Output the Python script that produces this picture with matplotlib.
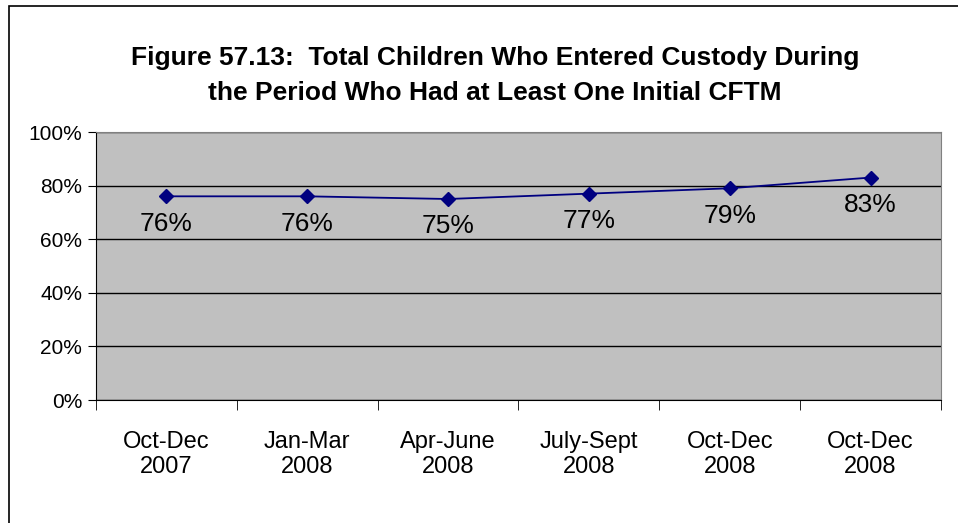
import matplotlib.pyplot as plt
from matplotlib.patches import Rectangle

plt.rcParams['font.family'] = ['Liberation Sans', 'DejaVu Sans']

# quarterly share of children with at least one initial CFTM
periods = ["Oct-Dec\n2007", "Jan-Mar\n2008", "Apr-June\n2008",
           "July-Sept\n2008", "Oct-Dec\n2008", "Oct-Dec\n2008"]
pct = [76, 76, 75, 77, 79, 83]
pct_labels = ["76%", "76%", "75%", "77%", "79%", "83%"]

fig = plt.figure(figsize=(9.58, 5.23), dpi=100)
ax = fig.add_axes([96/958, 1 - 400/523, 845/958, 268/523])

# outer chart frame
fig.patches.append(Rectangle((9/958, -0.05), 960/958, 1 - 6/523 + 0.05,
                             transform=fig.transFigure, fill=False,
                             edgecolor="black", linewidth=1.2))

ax.set_facecolor("#C0C0C0")
x = list(range(len(pct)))
ax.plot(x, pct, color="#000080", linewidth=1.3, marker="D", markersize=7,
        zorder=3)
for xi, yi, lab in zip(x, pct, pct_labels):
    ax.annotate(lab, (xi, yi), xytext=(0, -11), textcoords="offset points",
                ha="center", va="top", fontsize=19)

ax.set_xlim(-0.5, len(pct) - 0.5)
ax.set_ylim(0, 100)
ax.set_yticks(range(0, 101, 20))
ax.set_yticklabels([f"{v}%" for v in range(0, 101, 20)], fontsize=15)
ax.yaxis.grid(True, color="black", linewidth=1)
ax.set_axisbelow(True)

ax.set_xticks(x)
ax.set_xticklabels(periods, fontsize=17, linespacing=1.2)
ax.tick_params(axis="x", length=0, pad=22)
ax.set_xticks([i - 0.5 for i in range(len(pct) + 1)], minor=True)
ax.tick_params(axis="x", which="minor", length=7, direction="out")
ax.tick_params(axis="y", length=6, direction="out", pad=4)

for side in ["top", "right"]:
    ax.spines[side].set_color("#808080")
for side in ["left", "bottom"]:
    ax.spines[side].set_color("black")

fig.text(495/958, 1 - 58/523, "Figure 57.13:  Total Children Who Entered Custody During",
         ha="center", va="center", fontsize=19, fontweight="bold")
fig.text(495/958, 1 - 93/523, "the Period Who Had at Least One Initial CFTM",
         ha="center", va="center", fontsize=19, fontweight="bold")

fig.savefig("out.png", dpi=100)
